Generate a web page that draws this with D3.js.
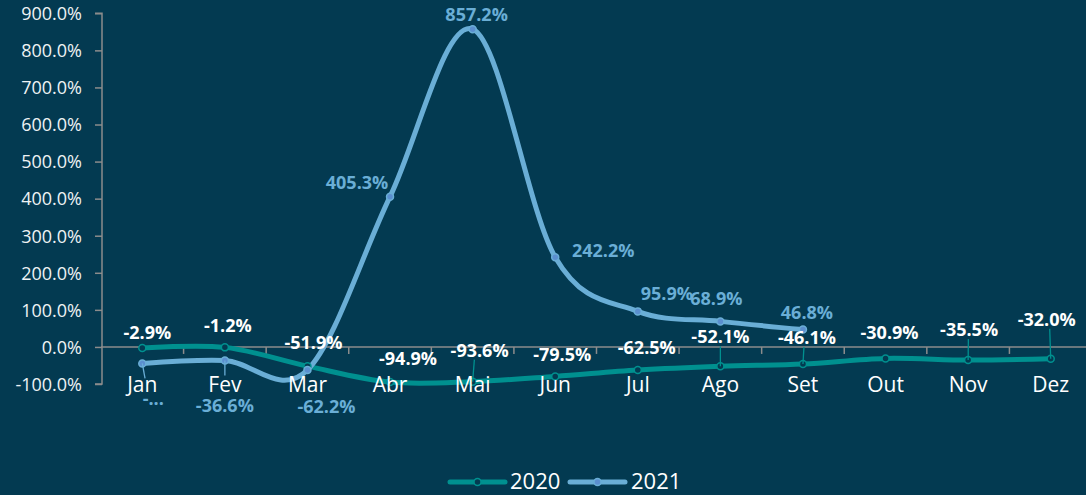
<!DOCTYPE html>
<html><head><meta charset="utf-8">
<script src="https://cdn.jsdelivr.net/npm/d3@7"></script>
<style>
html,body{margin:0;padding:0;background:#033a51;}
svg{display:block;font-family:"Open Sans",Lato,sans-serif;}
</style></head><body>
<svg id="c" width="1086" height="495"></svg>
<script>
const months = ["Jan","Fev","Mar","Abr","Mai","Jun","Jul","Ago","Set","Out","Nov","Dez"];
const values2020 = [-2.9,-1.2,-51.9,-94.9,-93.6,-79.5,-62.5,-52.1,-46.1,-30.9,-35.5,-32.0];
const values2021 = [-44.5,-36.6,-62.2,405.3,857.2,242.2,95.9,68.9,46.8];
const labels2021 = ["-...","-36.6%","-62.2%","405.3%","857.2%","242.2%","95.9%","68.9%","46.8%"];
const yTicks = [-100,0,100,200,300,400,500,600,700,800,900];
const seriesNames = ["2020","2021"];

// label layout offsets (dx, dy of label baseline relative to point, leader flag)
const lay2020 = [[5,-9,0],[3,-15,0],[6,-17,0],[18,-17,0],[7,-25,1],[7,-15,0],[9,-16,0],[0,-23,1],[4,-20,1],[4,-19,0],[1,-24,1],[-4,-33,1]];
const lay2021 = [[11,42,1],[0,52,1],[19,43,0],[-33,-8,0],[4,-8,0],[48,0,0],[29,-11,0],[-4,-16,0],[4,-11,0]];

const svg = d3.select("#c");
const C2020 = "#00908f", C2021 = "#6aaed6";

const x = d3.scaleBand().domain(months).range([101,1092]).padding(0);
const y = d3.scaleLinear().domain([-100,900]).range([384,13.3]);
const cx = m => x(m) + x.bandwidth()/2;

// y axis
const yAxis = d3.axisLeft(y).tickValues(yTicks).tickSize(7).tickFormat(d => d.toFixed(1)+"%");
const gy = svg.append("g").attr("transform","translate(102,0)").call(yAxis);
gy.select(".domain").attr("stroke","#8c8c8c").attr("stroke-width",1.5).attr("d","M-7,"+y(900)+"H0V"+y(-100)+"H-7");
gy.selectAll(".tick line").attr("stroke","#8c8c8c").attr("stroke-width",1.5);
gy.selectAll(".tick text").attr("fill","#eef2f4").attr("font-size",18).attr("font-family","'Open Sans',sans-serif").attr("x",-20).attr("dy","0.35em");

// x axis at zero
const xAxis = d3.axisBottom(x).tickSize(0).tickFormat("");
const gx = svg.append("g").attr("transform","translate(0,"+y(0)+")").call(xAxis);
gx.select(".domain").attr("stroke","#8c8c8c").attr("stroke-width",1.5).attr("d","M101,0H1092");
gx.selectAll(".tick").remove();
gx.selectAll(".bt").data(months.slice(1)).enter().append("line")
  .attr("x1",d=>x(d)).attr("x2",d=>x(d)).attr("y1",0).attr("y2",7)
  .attr("stroke","#8c8c8c").attr("stroke-width",1.5);

const line = d3.line().x(d=>cx(d.m)).y(d=>y(d.v)).curve(d3.curveCardinal.tension(0));
const d2020 = values2020.map((v,i)=>({m:months[i],v}));
const d2021 = values2021.map((v,i)=>({m:months[i],v}));

svg.append("path").datum(d2020).attr("d",line).attr("fill","none").attr("stroke",C2020).attr("stroke-width",5).attr("stroke-linecap","round");
svg.append("path").datum(d2021).attr("d",line).attr("fill","none").attr("stroke",C2021).attr("stroke-width",5).attr("stroke-linecap","round");

// markers
svg.append("g").selectAll("circle").data(d2020).enter().append("circle")
  .attr("cx",d=>cx(d.m)).attr("cy",d=>y(d.v)).attr("r",3.5)
  .attr("fill","#033a51").attr("stroke",C2020).attr("stroke-width",1.5);
svg.append("g").selectAll("circle").data(d2021).enter().append("circle")
  .attr("cx",d=>cx(d.m)).attr("cy",d=>y(d.v)).attr("r",3.5)
  .attr("fill","#5b8fcf").attr("stroke",C2021).attr("stroke-width",1.5);

// category labels (on top of lines)
svg.append("g").selectAll("text").data(months).enter().append("text")
  .attr("x",d=>cx(d)).attr("y",392).attr("text-anchor","middle")
  .attr("fill","#ffffff").attr("font-size",21).text(d=>d);

// leader lines + labels
function labels(data, lay, col, fill, txt){
  const g = svg.append("g");
  data.forEach((d,i)=>{
    const px = cx(d.m), py = y(d.v);
    const [dx,dy,lead] = lay[i];
    if(lead){
      const ty = dy<0 ? py+dy+3 : py+15;
      g.append("line").attr("x1",px).attr("y1",py).attr("x2",px+dx*0.25).attr("y2",ty)
        .attr("stroke",col).attr("stroke-width",1.3);
    }
    g.append("text").attr("x",px+dx).attr("y",py+dy).attr("text-anchor","middle")
      .attr("fill",fill).attr("font-size",18).attr("font-weight","bold")
      .text(txt(d,i));
  });
}
labels(d2020, lay2020, C2020, "#ffffff", d=>d.v.toFixed(1)+"%");
labels(d2021, lay2021, C2021, C2021, (d,i)=>labels2021[i]);

// legend
const lg = svg.append("g");
[[450,505,510,C2020,"#033a51"],[570,625,631,C2021,"#5b8fcf"]].forEach((a,i)=>{
  lg.append("line").attr("x1",a[0]).attr("x2",a[1]).attr("y1",482).attr("y2",482)
    .attr("stroke",a[3]).attr("stroke-width",5).attr("stroke-linecap","round");
  lg.append("circle").attr("cx",(a[0]+a[1])/2).attr("cy",482).attr("r",3.5)
    .attr("fill",a[4]).attr("stroke",a[3]).attr("stroke-width",1.5);
  lg.append("text").attr("x",a[2]).attr("y",489).attr("fill","#ffffff").attr("font-size",22).text(seriesNames[i]);
});
</script>
</body></html>
